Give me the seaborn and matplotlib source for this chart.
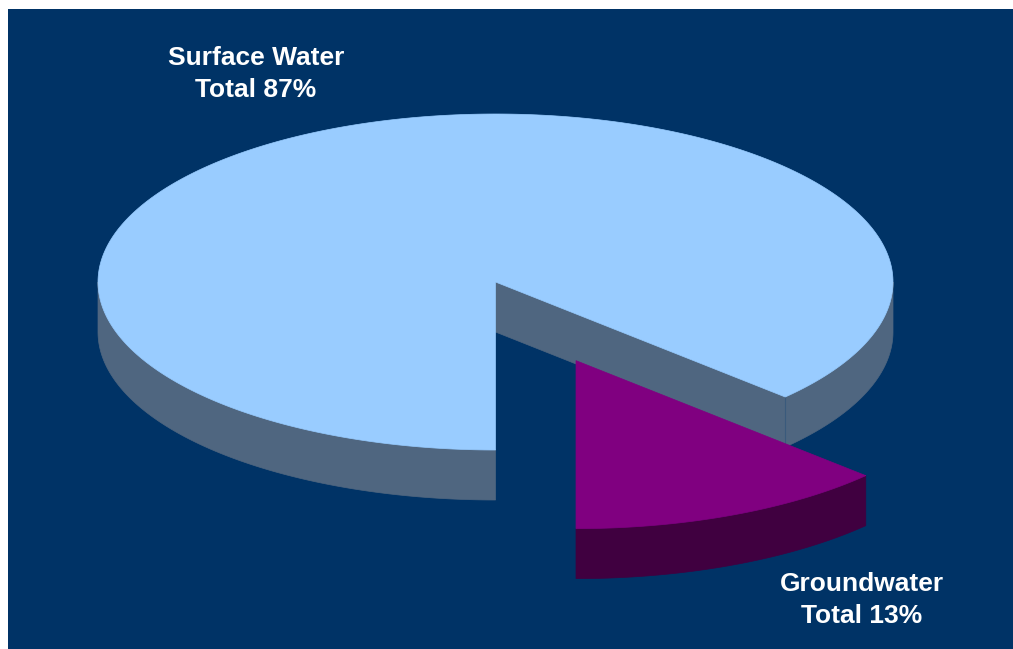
import numpy as np
import matplotlib
matplotlib.use("Agg")
import matplotlib.pyplot as plt
from matplotlib.patches import Polygon
import seaborn as sns

# ---- data ----
categories = ["Surface Water", "Groundwater"]
values = [87, 13]
labels = ["Surface Water\nTotal 87%", "Groundwater\nTotal 13%"]
top_colors = ["#99CCFF", "#800080"]
side_colors = ["#4F6680", "#400040"]
explode = [0.0, 0.51]

sns.set_theme(style="white")
plt.rcParams['font.family'] = ['Liberation Sans', 'DejaVu Sans']

W, H = 1013, 649
fig = plt.figure(figsize=(W / 100, H / 100), dpi=100, facecolor="white")
ax = fig.add_axes([8 / W, 0, (W - 8) / W, (H - 9) / H])
ax.set_xlim(8, W)
ax.set_ylim(H, 9)
ax.set_facecolor("#003366")
for s in ax.spines.values():
    s.set_visible(False)
ax.set_xticks([])
ax.set_yticks([])

cx, cy = 495.5, 282.0
rx, ry = 397.5, 168.0
depth = 50.0


def pt(t, ox=0.0, oy=0.0, r=1.0, dz=0.0):
    return (cx + ox + r * rx * np.cos(t), cy + oy - r * ry * np.sin(t) + dz)


def arc(t0, t1, ox, oy, dz=0.0, n=200):
    ts = np.linspace(t0, t1, n)
    return [pt(t, ox, oy, dz=dz) for t in ts]


def side_wall(t0, t1, ox, oy, color, z):
    # visible front portion only (sin t < 0)
    for k in range(-2, 3):
        a, b = np.pi + 2 * np.pi * k, 2 * np.pi + 2 * np.pi * k
        lo, hi = max(t0, a), min(t1, b)
        if hi > lo:
            top = arc(lo, hi, ox, oy)
            bot = arc(hi, lo, ox, oy, dz=depth)
            ax.add_patch(Polygon(top + bot, closed=True, facecolor=color,
                                 edgecolor=color, lw=0.5, zorder=z))


total = float(sum(values))
# Groundwater starts at the front (270 deg) going counter-clockwise
g_t0 = -np.pi / 2
g_t1 = g_t0 + 2 * np.pi * values[1] / total
s_t0 = g_t1
s_t1 = g_t0 + 2 * np.pi
slices = [(s_t0, s_t1), (g_t0, g_t1)]

for i, (t0, t1) in enumerate(slices):
    mid = 0.5 * (t0 + t1)
    ox = explode[i] * rx * np.cos(mid)
    oy = -explode[i] * ry * np.sin(mid)
    zs = 2 if explode[i] == 0 else 3.5
    zt = 3 if explode[i] == 0 else 4
    side_wall(t0, t1, ox, oy, side_colors[i], zs)
    c = (cx + ox, cy + oy)
    # radial wall at t0 (faces direction t0 - 90deg)
    if np.sin(t0 - np.pi / 2) < -1e-6:
        e = pt(t0, ox, oy)
        wall = [c, e, (e[0], e[1] + depth), (c[0], c[1] + depth)]
        ax.add_patch(Polygon(wall, closed=True, facecolor=side_colors[i],
                             edgecolor=side_colors[i], lw=0.5, zorder=zs))
        ax.plot([e[0], e[0]], [e[1], e[1] + depth], color="#3A5A7C",
                lw=0.8, zorder=zs + 0.1)
    # radial wall at t1 (faces direction t1 + 90deg)
    if np.sin(t1 + np.pi / 2) < -1e-6:
        e = pt(t1, ox, oy)
        wall = [c, e, (e[0], e[1] + depth), (c[0], c[1] + depth)]
        ax.add_patch(Polygon(wall, closed=True, facecolor=side_colors[i],
                             edgecolor=side_colors[i], lw=0.5, zorder=zs))
    top = [c] + arc(t0, t1, ox, oy, n=400)
    ax.add_patch(Polygon(top, closed=True, facecolor=top_colors[i],
                         edgecolor=top_colors[i], lw=0.5, zorder=zt))

label_pos = [(256, 74), (862, 600)]
for lab, (x, y) in zip(labels, label_pos):
    ax.text(x, y, lab, ha="center", va="center", color="white",
            fontsize=19, fontweight="bold", linespacing=1.42, zorder=10)

fig.savefig("out.png", dpi=100, facecolor="white")
